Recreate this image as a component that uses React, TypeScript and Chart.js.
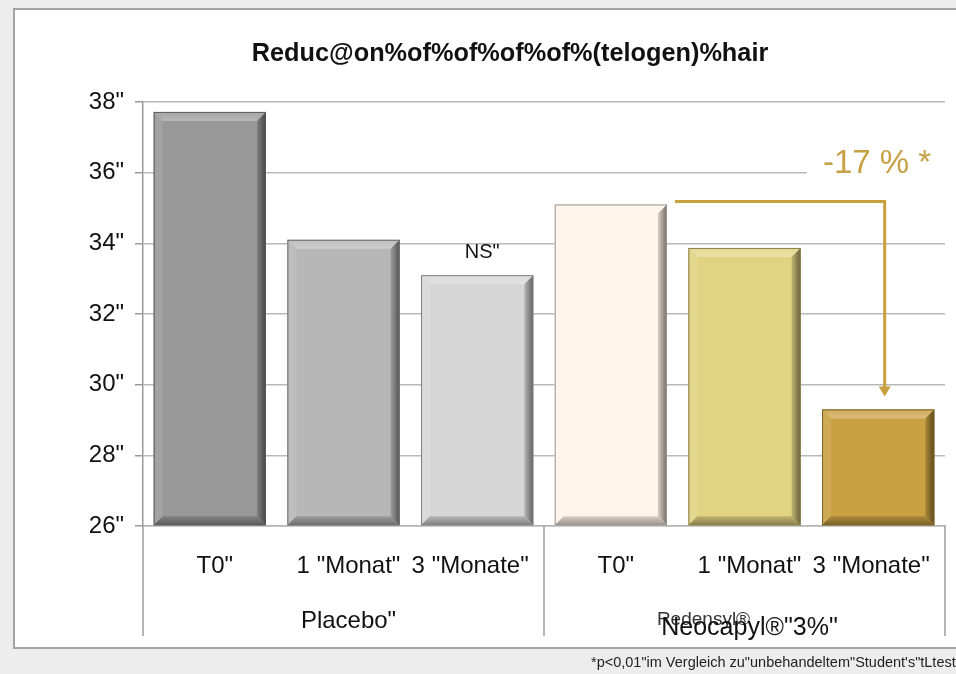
import React, { useEffect, useRef } from 'react';
import { Chart, registerables } from 'chart.js';

Chart.register(...registerables);

const FONT = '"Liberation Sans", Arial, Helvetica, sans-serif';

const titleText = 'Reduc@on%of%of%of%of%(telogen)%hair';
const categories = ['T0"', '1 "Monat"', '3 "Monate"', 'T0"', '1 "Monat"', '3 "Monate"'];
const values = [37.72, 34.1, 33.1, 35.1, 33.87, 29.3];
const barColors = ['#989898', '#b7b7b7', '#d6d6d6', '#fff4ea', '#e2d382', '#c9a142'];
const groupLabels = ['Placebo"', 'Neocapyl®"3%"'];
const groupSizes = [3, 3];
const groupSubLabel = 'Redensyl®';
const yMin = 26;
const yMax = 38;
const yStep = 2;
const nsLabel = 'NS"';
const nsIndex = 2;
const changeLabel = '-17 % *';
const changeFrom = 3;
const changeTo = 5;
const footnote = '*p<0,01"im Vergleich zu"unbehandeltem"Student\'s"tLtest';

function mix(hex: string, target: number, amt: number) {
  const n = parseInt(hex.slice(1), 16);
  const r = (n >> 16) & 255, g = (n >> 8) & 255, b = n & 255;
  const f = (c: number) => Math.round(c + (target - c) * amt);
  return `rgb(${f(r)},${f(g)},${f(b)})`;
}

const decorPlugin = {
  id: 'decor',
  beforeDraw(chart: any) {
    const ctx = chart.ctx;
    ctx.save();
    ctx.fillStyle = '#ededed';
    ctx.fillRect(0, 0, chart.width, chart.height);
    ctx.fillStyle = '#ffffff';
    ctx.fillRect(14, 9, chart.width, 639);
    ctx.strokeStyle = '#a4a4a4';
    ctx.lineWidth = 2;
    ctx.beginPath();
    ctx.moveTo(chart.width + 2, 9);
    ctx.lineTo(14, 9);
    ctx.lineTo(14, 648);
    ctx.lineTo(chart.width + 2, 648);
    ctx.stroke();
    ctx.restore();
  },
  afterDatasetsDraw(chart: any) {
    const ctx = chart.ctx;
    const meta = chart.getDatasetMeta(0);
    const xs = chart.scales.x;
    const ca = chart.chartArea;
    ctx.save();
    // bevel
    meta.data.forEach((bar: any, i: number) => {
      const c = barColors[i];
      const x0 = bar.x - bar.width / 2;
      const x1 = bar.x + bar.width / 2;
      const y0 = bar.y;
      const y1 = Math.min(bar.base, ca.bottom);
      const b = 9;
      const poly = (pts: number[][], fill: any) => {
        ctx.beginPath();
        ctx.moveTo(pts[0][0], pts[0][1]);
        for (let k = 1; k < pts.length; k++) ctx.lineTo(pts[k][0], pts[k][1]);
        ctx.closePath();
        ctx.fillStyle = fill;
        ctx.fill();
      };
      const gt = ctx.createLinearGradient(0, y0, 0, y0 + b);
      gt.addColorStop(0, mix(c, 255, 0.12));
      gt.addColorStop(1, mix(c, 255, 0.3));
      poly([[x0, y0], [x1, y0], [x1 - b, y0 + b], [x0 + b, y0 + b]], gt);
      poly([[x0, y0], [x0 + b, y0 + b], [x0 + b, y1 - b], [x0, y1]], mix(c, 255, 0.1));
      const gr = ctx.createLinearGradient(x1 - b, 0, x1, 0);
      gr.addColorStop(0, mix(c, 0, 0.15));
      gr.addColorStop(1, mix(c, 0, 0.55));
      poly([[x1, y0], [x1, y1], [x1 - b, y1 - b], [x1 - b, y0 + b]], gr);
      const gb = ctx.createLinearGradient(0, y1 - b, 0, y1);
      gb.addColorStop(0, mix(c, 0, 0.15));
      gb.addColorStop(1, mix(c, 0, 0.4));
      poly([[x0, y1], [x0 + b, y1 - b], [x1 - b, y1 - b], [x1, y1]], gb);
      ctx.strokeStyle = mix(c, 0, 0.4);
      ctx.lineWidth = 1;
      ctx.strokeRect(x0 + 0.5, y0 + 0.5, bar.width - 1, y1 - y0 - 1);
    });

    // NS label
    const nsBar = meta.data[nsIndex];
    ctx.fillStyle = '#111';
    ctx.font = `20px ${FONT}`;
    ctx.textAlign = 'center';
    ctx.textBaseline = 'middle';
    ctx.fillText(nsLabel, nsBar.x + 5, nsBar.y - 23);

    // bracket arrow
    const a = meta.data[changeFrom];
    const t = meta.data[changeTo];
    const gold = '#c9a03e';
    const hx0 = a.x + a.width / 2 + 8;
    const hy = a.y - 3;
    const hx1 = t.x + 6.5;
    const tipY = t.y - 13;
    ctx.strokeStyle = gold;
    ctx.lineWidth = 3;
    ctx.beginPath();
    ctx.moveTo(hx0, hy);
    ctx.lineTo(hx1, hy);
    ctx.lineTo(hx1, tipY - 9);
    ctx.stroke();
    ctx.fillStyle = gold;
    ctx.beginPath();
    ctx.moveTo(hx1 - 6, tipY - 10);
    ctx.lineTo(hx1 + 6, tipY - 10);
    ctx.lineTo(hx1, tipY);
    ctx.closePath();
    ctx.fill();

    // change label with white box
    ctx.fillStyle = '#ffffff';
    ctx.fillRect(807, 142, chart.width - 807, 44);
    ctx.fillStyle = '#c8a045';
    ctx.font = `33px ${FONT}`;
    ctx.textAlign = 'left';
    ctx.fillText(changeLabel, 823, 164);

    // x labels (last label of each group sits slightly left, as in the source)
    ctx.fillStyle = '#111';
    ctx.font = `24px ${FONT}`;
    ctx.textAlign = 'center';
    categories.forEach((lab, i) => {
      const nudge = i % 3 === 2 ? -7 : 5;
      ctx.fillText(lab, xs.getPixelForValue(i) + nudge, 566);
    });

    // group separators and labels
    ctx.strokeStyle = '#9c9c9c';
    ctx.lineWidth = 1.5;
    let start = 0;
    const edges: number[] = [];
    const half = (xs.getPixelForValue(1) - xs.getPixelForValue(0)) / 2;
    edges.push(xs.getPixelForValue(0) - half);
    groupSizes.forEach((n, gi) => {
      const end = start + n - 1;
      edges.push(xs.getPixelForValue(end) + half);
      const cx = (xs.getPixelForValue(start) + xs.getPixelForValue(end)) / 2;
      if (gi === 0) {
        ctx.font = `24px ${FONT}`;
        ctx.fillStyle = '#111';
        ctx.fillText(groupLabels[gi], cx + 5, 621);
      } else {
        ctx.font = `19px ${FONT}`;
        ctx.fillStyle = '#333';
        ctx.fillText(groupSubLabel, cx - 41, 620);
        ctx.font = `25px ${FONT}`;
        ctx.fillStyle = '#111';
        ctx.fillText(groupLabels[gi], cx + 5, 628);
      }
      start += n;
    });
    edges.forEach((ex) => {
      ctx.beginPath();
      ctx.moveTo(ex, ca.bottom);
      ctx.lineTo(ex, 636);
      ctx.stroke();
    });

    // title
    ctx.fillStyle = '#111';
    ctx.font = `bold 25.3px ${FONT}`;
    ctx.textAlign = 'center';
    ctx.fillText(titleText, 510, 54);

    // footnote
    ctx.font = `14.5px ${FONT}`;
    ctx.textAlign = 'left';
    ctx.fillStyle = '#222';
    ctx.fillText(footnote, 591, 663);
    ctx.restore();
  },
};

export default function App() {
  const ref = useRef<HTMLCanvasElement | null>(null);
  useEffect(() => {
    if (!ref.current) return;
    const chart = new Chart(ref.current, {
      type: 'bar',
      data: {
        labels: categories,
        datasets: [
          {
            data: values,
            backgroundColor: barColors,
            borderWidth: 0,
            base: yMin,
            barPercentage: 0.84,
            categoryPercentage: 1,
          },
        ],
      },
      options: {
        responsive: false,
        animation: false,
        layout: { padding: { left: 0, top: 102, right: 11, bottom: 148 } },
        plugins: {
          legend: { display: false },
          tooltip: { enabled: false },
          title: { display: false },
        },
        scales: {
          x: {
            grid: { display: false },
            border: { display: true, color: '#b3b3b3', width: 1.5 },
            ticks: { display: false },
            afterFit: (s: any) => {
              s.height = 0;
            },
          },
          y: {
            min: yMin,
            max: yMax,
            ticks: {
              stepSize: yStep,
              callback: (v: any) => v + '"',
              font: { size: 24, family: FONT },
              color: '#111',
              padding: 11,
            },
            grid: { color: '#b9b9b9', lineWidth: 1.5, tickLength: 8, drawTicks: true, tickColor: '#9a9a9a' },
            border: { color: '#9a9a9a', width: 1.5 },
            afterFit: (s: any) => {
              s.width = 143;
            },
          },
        },
      },
      plugins: [decorPlugin],
    } as any);
    return () => chart.destroy();
  }, []);
  return (
    <div style={{ position: 'absolute', left: 0, top: 0, width: 956, height: 674, overflow: 'hidden' }}>
      <canvas ref={ref} width={956} height={674} style={{ display: 'block' }} />
    </div>
  );
}
